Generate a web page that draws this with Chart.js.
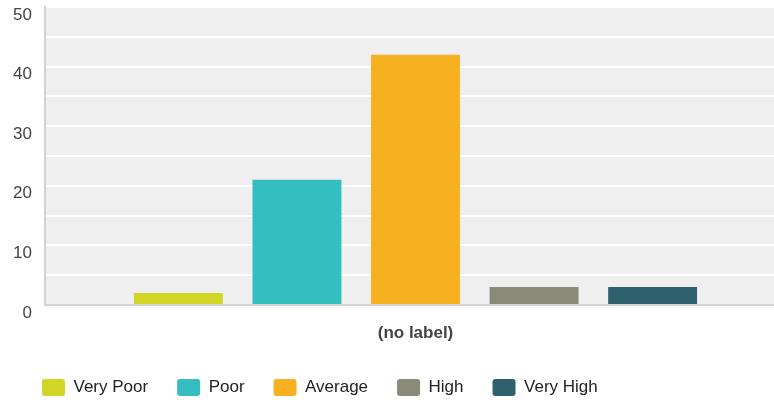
<!DOCTYPE html>
<html><head><meta charset="utf-8">
<style>
html,body{margin:0;padding:0;overflow:hidden;background:#fff;width:774px;height:400px}
#wrap{position:relative;width:786px;height:406px}
</style>
<script src="https://cdn.jsdelivr.net/npm/chart.js@4.4.0/dist/chart.umd.min.js"></script>
</head><body><div id="wrap"><canvas id="c"></canvas></div>
<script>
const categories = ['(no label)'];
const seriesNames = ['Very Poor', 'Poor', 'Average', 'High', 'Very High'];
const seriesValues = [2, 21, 42, 3, 3];
const seriesColors = ['#d1d526', '#34bec0', '#f7b01f', '#8a8a78', '#2f606d'];
const yTickLabels = [0, 10, 20, 30, 40, 50];

const FONT = "'Liberation Sans', Arial, sans-serif";

const plotBg = {
  id: 'plotBg',
  beforeDraw(chart) {
    const {ctx, chartArea: a} = chart;
    ctx.save();
    ctx.fillStyle = '#efefef';
    ctx.fillRect(a.left, a.top, a.right - a.left, a.bottom - a.top);
    ctx.restore();
  }
};

new Chart(document.getElementById('c'), {
  type: 'bar',
  data: {
    labels: categories,
    datasets: seriesNames.map((name, i) => ({
      label: name,
      data: [seriesValues[i]],
      backgroundColor: seriesColors[i],
      borderColor: seriesColors[i],
      borderWidth: 0,
      categoryPercentage: 0.8,
      barPercentage: 0.75
    }))
  },
  options: {
    responsive: true,
    maintainAspectRatio: false,
    animation: false,
    layout: {padding: {left: 13, top: 7, right: 0, bottom: 0}},
    plugins: {
      tooltip: {enabled: false},
      legend: {
        position: 'bottom',
        align: 'start',
        labels: {
          boxWidth: 23,
          boxHeight: 17,
          padding: 29,
          useBorderRadius: true,
          borderRadius: 3,
          color: '#222',
          font: {family: FONT, size: 17}
        }
      }
    },
    scales: {
      x: {
        grid: {display: false, drawTicks: false},
        border: {display: true, color: '#d3d3d3', width: 2},
        ticks: {color: '#444', padding: 18, font: {family: FONT, size: 17, weight: 'bold'}},
        afterFit(s) { s.height = 45; s.paddingLeft = 0; s.paddingRight = 0; }
      },
      y: {
        min: 0,
        max: 50,
        grid: {
          drawTicks: false,
          lineWidth: 2,
          color: (c) => (c.tick && c.tick.value === 0) ? 'rgba(0,0,0,0)' : '#ffffff'
        },
        border: {display: true, color: '#d3d3d3', width: 2},
        ticks: {
          stepSize: 5,
          color: '#444',
          padding: 13,
          labelOffset: 8,
          font: {family: FONT, size: 17},
          callback: (v) => yTickLabels.includes(v) ? String(v) : ''
        },
        afterFit(s) { s.width = 32; s.paddingTop = 0; s.paddingBottom = 0; }
      }
    }
  },
  plugins: [plotBg]
});
</script>
</body></html>
